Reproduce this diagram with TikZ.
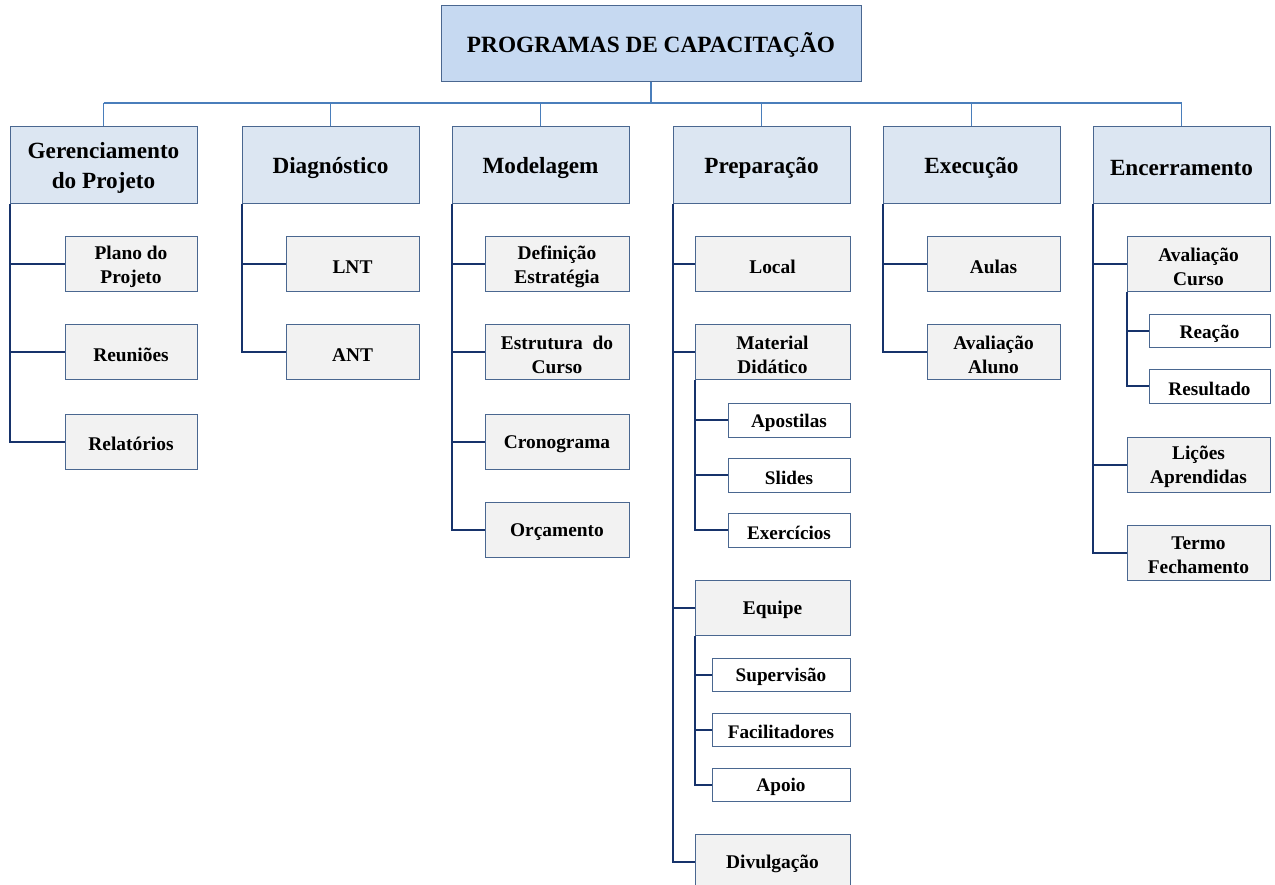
\documentclass[tikz,border=0pt]{standalone}
\usepackage{fontspec}
\setmainfont{Liberation Serif}
\definecolor{rootfill}{HTML}{C6D9F1}
\definecolor{lonefill}{HTML}{DCE6F2}
\definecolor{ltwofill}{HTML}{F2F2F2}
\definecolor{bord}{HTML}{4A6790}
\definecolor{trunk}{HTML}{17336B}
\definecolor{busc}{HTML}{4A7EBB}
\tikzset{
  base/.style={draw=bord, line width=1pt, inner sep=0pt},
  rootbox/.style={base, fill=rootfill},
  lone/.style={base, fill=lonefill},
  ltwo/.style={base, fill=ltwofill},
  lthree/.style={base, fill=white},
  tbase/.style={inner sep=0pt, align=center, text=black},
  rootboxtext/.style={tbase, font=\fontsize{23.3}{27}\selectfont\bfseries},
  lonetext/.style={tbase, font=\fontsize{23.2}{30}\selectfont\bfseries},
  ltwotext/.style={tbase, font=\fontsize{19.4}{23.5}\selectfont\bfseries},
  lthreetext/.style={tbase, font=\fontsize{19.2}{22}\selectfont\bfseries},
  buslink/.style={draw=busc, line width=1.8pt},
  trunkline/.style={draw=trunk, line width=2pt},
}
% \bx{style}{name}{x}{y}{w}{h}{text}
\newcommand\bx[7]{%
  \node[#1, minimum width=#5pt, minimum height=#6pt] (#2) at (#3,#4) {};
  \node[#1text] (#2t) at ([yshift=-2.5pt]#2.center) {#7};}
\begin{document}
\begin{tikzpicture}[x=1pt,y=-1pt]
\useasboundingbox (0,0) rectangle (1275,885);
\clip (0,0) rectangle (1275,885);
% root
\node[rootbox, minimum width=420pt, minimum height=76pt] (root) at (651,44) {};
\node[rootboxtext] (roott) at ([yshift=-1pt]root.center) {PROGRAMAS DE CAPACITAÇÃO};
% level 1
\bx{lone}{g}{103.5}{165.5}{187}{77}{Gerenciamento\\do Projeto}
\bx{lone}{d}{330.5}{165.5}{177}{77}{Diagnóstico}
\bx{lone}{m}{540.5}{165.5}{177}{77}{Modelagem}
\bx{lone}{p}{761.5}{165.5}{177}{77}{Preparação}
\bx{lone}{e}{971.5}{165.5}{177}{77}{Execução}
\bx{lone}{en}{1181.5}{165.5}{177}{77}{Encerramento}
% bus
\coordinate (bus) at (0,103);
\draw[buslink] (root.south) -- (root.south |- bus);
\draw[buslink] (g.north |- bus) -- (en.north |- bus);
\foreach \n in {g,d,m,p,e,en} \draw[buslink] (\n.north |- bus) -- (\n.north);
% Gerenciamento children
\bx{ltwo}{g1}{131}{264.5}{132}{55}{Plano do\\Projeto}
\bx{ltwo}{g2}{131}{352.5}{132}{55}{Reuniões}
\bx{ltwo}{g3}{131}{441.5}{132}{55}{Relatórios}
% Diagnostico children
\bx{ltwo}{d1}{352.5}{264.5}{133}{55}{LNT}
\bx{ltwo}{d2}{352.5}{352.5}{133}{55}{ANT}
% Modelagem children
\bx{ltwo}{m1}{557}{264.5}{144}{55}{Definição\\Estratégia}
\bx{ltwo}{m2}{557}{352.5}{144}{55}{Estrutura\ \ do\\Curso}
\bx{ltwo}{m3}{557}{441.5}{144}{55}{Cronograma}
\bx{ltwo}{m4}{557}{529.5}{144}{55}{Orçamento}
% Preparacao children
\bx{ltwo}{p1}{772.5}{264.5}{155}{55}{Local}
\bx{ltwo}{p2}{772.5}{352.5}{155}{55}{Material\\Didático}
\bx{ltwo}{p3}{772.5}{607.5}{155}{55}{Equipe}
\bx{ltwo}{p4}{772.5}{861.5}{155}{55}{Divulgação}
\bx{lthree}{p21}{789}{420}{122}{34}{Apostilas}
\bx{lthree}{p22}{789}{475}{122}{34}{Slides}
\bx{lthree}{p23}{789}{530}{122}{34}{Exercícios}
\bx{lthree}{p31}{781}{674.5}{138}{33}{Supervisão}
\bx{lthree}{p32}{781}{729.5}{138}{33}{Facilitadores}
\bx{lthree}{p33}{781}{784.5}{138}{33}{Apoio}
% Execucao children
\bx{ltwo}{e1}{993.5}{264.5}{133}{55}{Aulas}
\bx{ltwo}{e2}{993.5}{352.5}{133}{55}{Avaliação\\Aluno}
% Encerramento children
\bx{ltwo}{en1}{1198.5}{264.5}{143}{55}{Avaliação\\Curso}
\bx{ltwo}{en2}{1198.5}{464.5}{143}{55}{Lições\\Aprendidas}
\bx{ltwo}{en3}{1198.5}{552.5}{143}{55}{Termo\\Fechamento}
\bx{lthree}{en11}{1209.5}{331.5}{121}{33}{Reação}
\bx{lthree}{en12}{1209.5}{386.5}{121}{33}{Resultado}
% trunks
\foreach \pn/\kids in {g/{g1,g2,g3}, d/{d1,d2}, m/{m1,m2,m3,m4}, p/{p1,p2,p3,p4}, e/{e1,e2}, en/{en1,en2,en3}, p2/{p21,p22,p23}, p3/{p31,p32,p33}, en1/{en11,en12}}
  \foreach \k in \kids \draw[trunkline] (\pn.south west) |- (\k.west);
\end{tikzpicture}
\end{document}
